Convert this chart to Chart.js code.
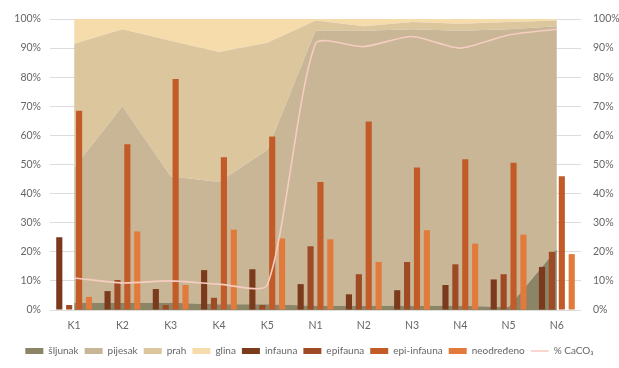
<!DOCTYPE html>
<html>
<head>
<meta charset="utf-8">
<script src="https://cdn.jsdelivr.net/npm/chart.js@4.4.0/dist/chart.umd.min.js"></script>
<style>
  html, body { margin: 0; padding: 0; background: #fff; }
  #wrap { width: 619px; height: 368px; }
</style>
</head>
<body>
<div id="wrap"><canvas id="myChart" width="619" height="368"></canvas></div>
<script>
const categories = ['K1', 'K2', 'K3', 'K4', 'K5', 'N1', 'N2', 'N3', 'N4', 'N5', 'N6']

// sediment fractions (stacked areas, %)
const sljunak = [2.5, 2.5, 2.5, 2, 2, 1.5, 1.5, 1.5, 1.5, 1, 21]
const pijesak = [46.5, 67.5, 43.5, 42, 53, 94.5, 94.5, 95, 94.5, 95.5, 76.5]
const prah = [42.5, 26.5, 46.5, 44.7, 36.8, 3.5, 1.5, 2.5, 2.4, 2.5, 2]
const glina = [8.5, 3.5, 7.5, 11.3, 8.2, 0.5, 2.5, 1, 1.6, 1, 0.5]

// fauna groups (bars, %)
const infauna = [25, 6.5, 7.2, 13.7, 14, 8.9, 5.4, 6.8, 8.6, 10.5, 14.8]
const epifauna = [1.7, 10.3, 1.7, 4.2, 1.7, 21.9, 12.3, 16.5, 15.7, 12.3, 20]
const epiInfauna = [68.5, 57, 79.4, 52.5, 59.6, 44, 64.8, 49, 51.8, 50.6, 46]
const neodredeno = [4.5, 27, 8.6, 27.6, 24.6, 24.3, 16.5, 27.4, 22.8, 25.9, 19.2]

// carbonate content (line, %)
const caco3 = [11, 9.3, 10, 8.9, 8.6, 91.5, 90.5, 94, 90, 94.5, 96.5]

const tickValues = [0, 10, 20, 30, 40, 50, 60, 70, 80, 90, 100]

const fontSpec = { family: 'Lato, "Open Sans", sans-serif', size: 10.5 }
const legendFont = { family: 'Lato, "Open Sans", sans-serif', size: 10 }
const textColor = '#666666'

function areaSet (label, data, color, fill) {
  return {
    type: 'line',
    label: label,
    data: data,
    yAxisID: 'y1',
    stack: 'sediment',
    backgroundColor: color,
    borderColor: color,
    borderWidth: 0,
    pointRadius: 0,
    tension: 0,
    fill: fill,
    order: 3
  }
}

function barSet (label, data, color) {
  return {
    type: 'bar',
    label: label,
    data: data,
    yAxisID: 'y',
    backgroundColor: color,
    borderWidth: 0,
    categoryPercentage: 0.82,
    barPercentage: 0.62,
    order: 2
  }
}

const datasets = [
  areaSet('šljunak', sljunak, '#8c8466', 'origin'),
  areaSet('pijesak', pijesak, '#c8b696', '-1'),
  areaSet('prah', prah, '#dcc69e', '-1'),
  areaSet('glina', glina, '#f6dcaa', '-1'),
  barSet('infauna', infauna, '#7c3a1d'),
  barSet('epifauna', epifauna, '#9e4a24'),
  barSet('epi-infauna', epiInfauna, '#c25b28'),
  barSet('neodređeno', neodredeno, '#e17a3a'),
  {
    type: 'line',
    label: '% CaCO₃',
    data: caco3,
    yAxisID: 'y',
    borderColor: '#f7cdc2',
    backgroundColor: '#f7cdc2',
    borderWidth: 1.6,
    pointRadius: 0,
    tension: 0.22,
    fill: false,
    order: 1
  }
]

const configuration = {
  type: 'bar',
  data: {
    labels: categories,
    datasets: datasets
  },
  options: {
    responsive: false,
    animation: false,
    layout: {
      padding: { top: 19, left: 0, right: 0, bottom: 2 }
    },
    scales: {
      x: {
        grid: { display: false, drawTicks: false },
        border: { display: false },
        ticks: { color: textColor, font: fontSpec, padding: 9 },
        afterFit: scale => { scale.height = 30 }
      },
      y: {
        position: 'left',
        min: 0,
        max: 100,
        afterBuildTicks: scale => { scale.ticks = tickValues.map(v => ({ value: v })) },
        grid: { color: '#dcdcdc', drawTicks: false },
        border: { display: false },
        ticks: { color: textColor, font: fontSpec, padding: 9, callback: v => v + '%' },
        afterFit: scale => { scale.width = 50 }
      },
      y1: {
        position: 'right',
        stacked: true,
        min: 0,
        max: 100,
        afterBuildTicks: scale => { scale.ticks = tickValues.map(v => ({ value: v })) },
        grid: { display: false, drawTicks: false },
        border: { display: false },
        ticks: { color: textColor, font: fontSpec, padding: 12, callback: v => v + '%' },
        afterFit: scale => { scale.width = 38 }
      }
    },
    plugins: {
      tooltip: { enabled: false },
      legend: {
        display: true,
        position: 'bottom',
        labels: {
          color: textColor,
          font: legendFont,
          usePointStyle: true,
          pointStyleWidth: 18,
          boxHeight: 6,
          padding: 6,
          sort: (a, b) => a.datasetIndex - b.datasetIndex,
          generateLabels: chart => {
            const items = Chart.defaults.plugins.legend.labels.generateLabels(chart)
            items.forEach(item => {
              const ds = chart.data.datasets[item.datasetIndex]
              if (ds.label === '% CaCO₃') {
                item.pointStyle = 'line'
                item.strokeStyle = ds.borderColor
                item.lineWidth = 1.6
              } else {
                item.pointStyle = 'rect'
                item.lineWidth = 0
                item.fillStyle = ds.backgroundColor
              }
            })
            return items
          }
        }
      }
    }
  }
}

const ctx = document.getElementById('myChart').getContext('2d')
const myChart = new Chart(ctx, configuration)
</script>
</body>
</html>
